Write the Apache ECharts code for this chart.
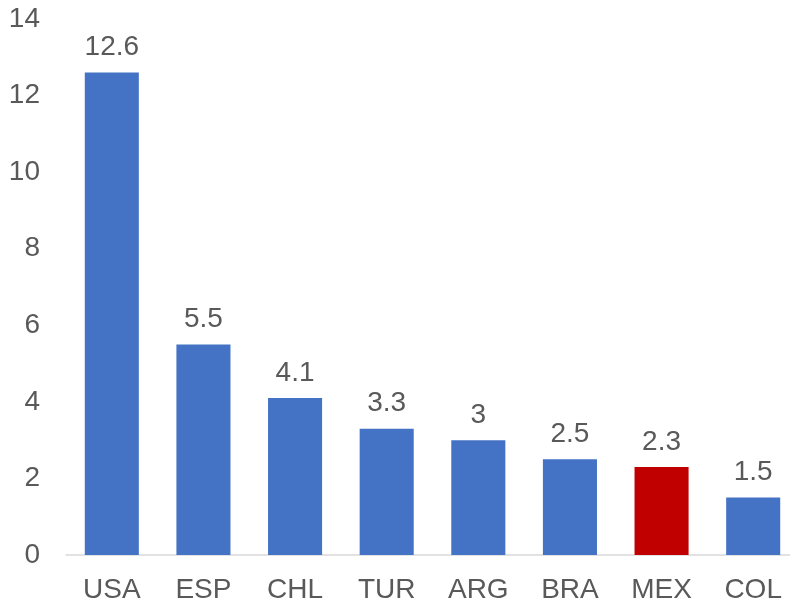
<!DOCTYPE html>
<html>
<head>
<meta charset="UTF-8">
<title></title>
<script src="https://cdn.jsdelivr.net/npm/echarts@6/dist/echarts.min.js"></script>
<style>
  html, body { margin: 0; padding: 0; background: #fff; overflow: hidden; }
  /* 原图的绘图区右侧超出画面，这里把容器做宽一点再裁掉 */
  #main { width: 799px; height: 604px; }
</style>
</head>
<body>
<div id="main"></div>
<script type="text/javascript">
var countries = ['USA', 'ESP', 'CHL', 'TUR', 'ARG', 'BRA', 'MEX', 'COL'];
var values = [12.6, 5.5, 4.1, 3.3, 3, 2.5, 2.3, 1.5];
var highlight = 'MEX';

var blue = '#4472C4';
var red = '#C00000';
var textColor = '#595959';
var font = 'Liberation Sans, Arial, sans-serif';

var chart = echarts.init(document.getElementById('main'));

var barData = [];
for (var i = 0; i < values.length; i++) {
  barData.push({
    value: values[i],
    itemStyle: { color: countries[i] === highlight ? red : blue }
  });
}

var option = {
  animation: false,
  grid: { left: 66, right: 0, top: 19, bottom: 49, containLabel: false },
  xAxis: {
    type: 'category',
    data: countries,
    axisLine: { lineStyle: { color: '#D9D9D9', width: 1.5 } },
    axisTick: { show: false },
    axisLabel: { color: textColor, fontSize: 28, fontFamily: font, margin: 21 }
  },
  yAxis: {
    type: 'value',
    min: 0,
    max: 14,
    interval: 2,
    splitLine: { show: false },
    axisLine: { show: false },
    axisTick: { show: false },
    axisLabel: { color: textColor, fontSize: 28, fontFamily: font, margin: 26 }
  },
  series: [{
    type: 'bar',
    data: barData,
    barWidth: '59%',
    label: {
      show: true,
      position: 'top',
      distance: 11,
      color: textColor,
      fontSize: 28,
      fontFamily: font
    }
  }]
};

chart.setOption(option);
</script>
</body>
</html>
